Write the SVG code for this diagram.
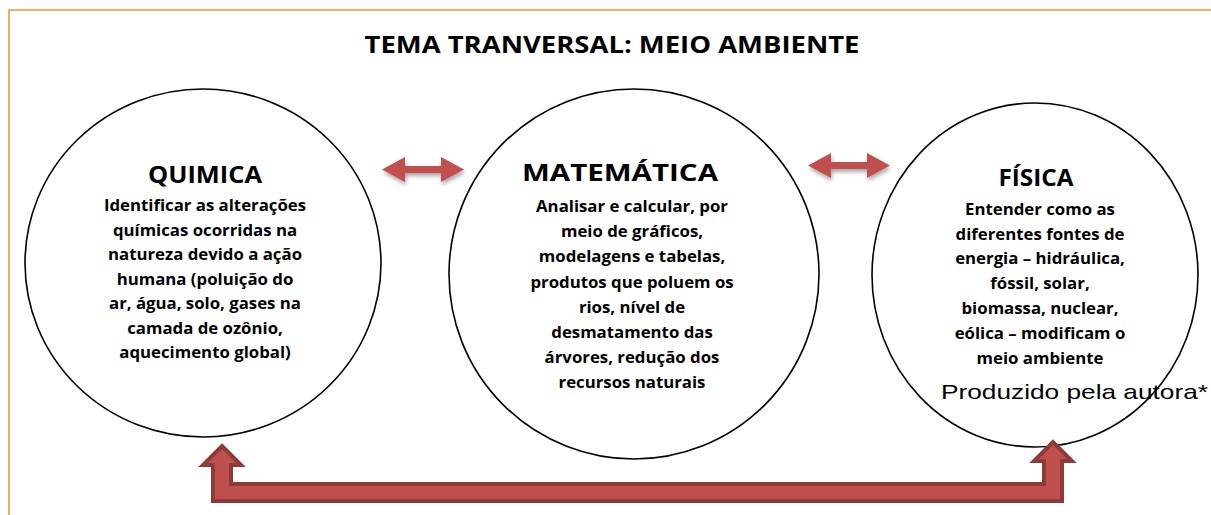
<svg xmlns="http://www.w3.org/2000/svg" width="1211" height="515" viewBox="0 0 1211 515">
<style>
.frame{fill:none;stroke:#F79646;stroke-width:1.6}
.circ{fill:#fff;stroke:#000;stroke-width:1.6}
.t{font-family:"Open Sans",Lato,"Liberation Sans",sans-serif;font-weight:bold;fill:#000;text-anchor:middle}
.title{font-size:24px}
.head{font-size:24px}
.body{font-size:16.8px}
.note{font-family:"Liberation Sans",Arial,sans-serif;font-size:21px;fill:#000}
.arr{fill:#C0504D}
.big{fill:#C0504D;stroke:#8E3A38;stroke-width:4;stroke-linejoin:miter}
</style>
<defs>
<filter id="sh" x="-20%" y="-40%" width="150%" height="200%">
<feGaussianBlur in="SourceAlpha" stdDeviation="2"/>
<feOffset dx="1" dy="3" result="b"/>
<feComponentTransfer><feFuncA type="linear" slope="0.35"/></feComponentTransfer>
<feMerge><feMergeNode/><feMergeNode in="SourceGraphic"/></feMerge>
</filter>
</defs>
<rect class="frame" x="9" y="10" width="1220" height="520"/>
<text class="t title" x="612" y="53" textLength="495" lengthAdjust="spacingAndGlyphs">TEMA TRANVERSAL: MEIO AMBIENTE</text>
<g id="quimica">
<ellipse class="circ" cx="203" cy="263" rx="178" ry="174"/>
<text class="t head" x="205" y="183" textLength="114" lengthAdjust="spacingAndGlyphs">QUIMICA</text>
<text class="t body" x="205" y="211">Identificar as alterações</text>
<text class="t body" x="205" y="235.5">químicas ocorridas na</text>
<text class="t body" x="205" y="260">natureza devido a ação</text>
<text class="t body" x="205" y="284.5">humana (poluição do</text>
<text class="t body" x="205" y="309">ar, água, solo, gases na</text>
<text class="t body" x="205" y="333.5">camada de ozônio,</text>
<text class="t body" x="205" y="358">aquecimento global)</text>
</g>
<g id="matematica">
<ellipse class="circ" cx="634" cy="274" rx="185" ry="185"/>
<text class="t head" x="620" y="181" textLength="196" lengthAdjust="spacingAndGlyphs">MATEMÁTICA</text>
<text class="t body" x="632" y="212">Analisar e calcular, por</text>
<text class="t body" x="632" y="237">meio de gráficos,</text>
<text class="t body" x="632" y="262">modelagens e tabelas,</text>
<text class="t body" x="632" y="287.5">produtos que poluem os</text>
<text class="t body" x="632" y="312.5">rios, nível de</text>
<text class="t body" x="632" y="337.5">desmatamento das</text>
<text class="t body" x="632" y="362.5">árvores, redução dos</text>
<text class="t body" x="632" y="388">recursos naturais</text>
</g>
<g id="fisica">
<ellipse class="circ" cx="1035" cy="275" rx="163" ry="172"/>
<text class="t head" x="1036" y="186" textLength="75" lengthAdjust="spacingAndGlyphs">FÍSICA</text>
<text class="t body" x="1040" y="215">Entender como as</text>
<text class="t body" x="1040" y="239.5">diferentes fontes de</text>
<text class="t body" x="1040" y="264">energia – hidráulica,</text>
<text class="t body" x="1040" y="289">fóssil, solar,</text>
<text class="t body" x="1040" y="314">biomassa, nuclear,</text>
<text class="t body" x="1040" y="339">eólica – modificam o</text>
<text class="t body" x="1040" y="364">meio ambiente</text>
<text class="note" x="941" y="399" textLength="267" lengthAdjust="spacingAndGlyphs">Produzido pela autora*</text>
</g>
<g id="connectors">
<polygon class="arr" filter="url(#sh)" points="382,169.5 405,157 405,166 441,166 441,157 464,169.5 441,182 441,173 405,173 405,182"/>
<polygon class="arr" filter="url(#sh)" points="808,165.5 831,153 831,162 867,162 867,153 890,165.5 867,178 867,169 831,169 831,178"/>
<polygon class="big" points="222,446 241,465 231,465 231,484 1044,484 1044,461 1034,461 1053,442 1072,461 1062,461 1062,501 213,501 213,465 203,465"/>
</g>
</svg>
